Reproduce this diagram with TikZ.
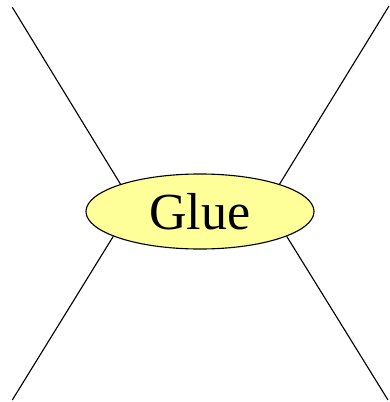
\documentclass[tikz,border=0pt]{standalone}
\usepackage{fontspec}
\setmainfont{Liberation Serif}
\usepackage{tikz}
\usetikzlibrary{shapes.geometric}
\definecolor{glueyellow}{RGB}{255,255,153}

\begin{document}
\begin{tikzpicture}[
    x=0.025cm, y=-0.025cm,
    gluebox/.style={draw, ellipse, fill=glueyellow, line width=0.8pt, inner sep=0pt,
        minimum width=5.7cm, minimum height=1.875cm, font=\fontsize{37}{40}\selectfont},
    leg/.style={line width=0.8pt}
]
\useasboundingbox (0,0) rectangle (389,402);

% Knoten
\node[gluebox] (glue) at (200,211.5) {Glue};

\coordinate (tl) at (12.3,7.3);
\coordinate (tr) at (389,6);
\coordinate (bl) at (12.3,400);
\coordinate (br) at (388,400);

\draw[leg] (tl) -- (glue.161);
\draw[leg] (tr) -- (glue.19);
\draw[leg] (bl) -- (glue.196);
\draw[leg] (br) -- (glue.344);

\end{tikzpicture}
\end{document}
